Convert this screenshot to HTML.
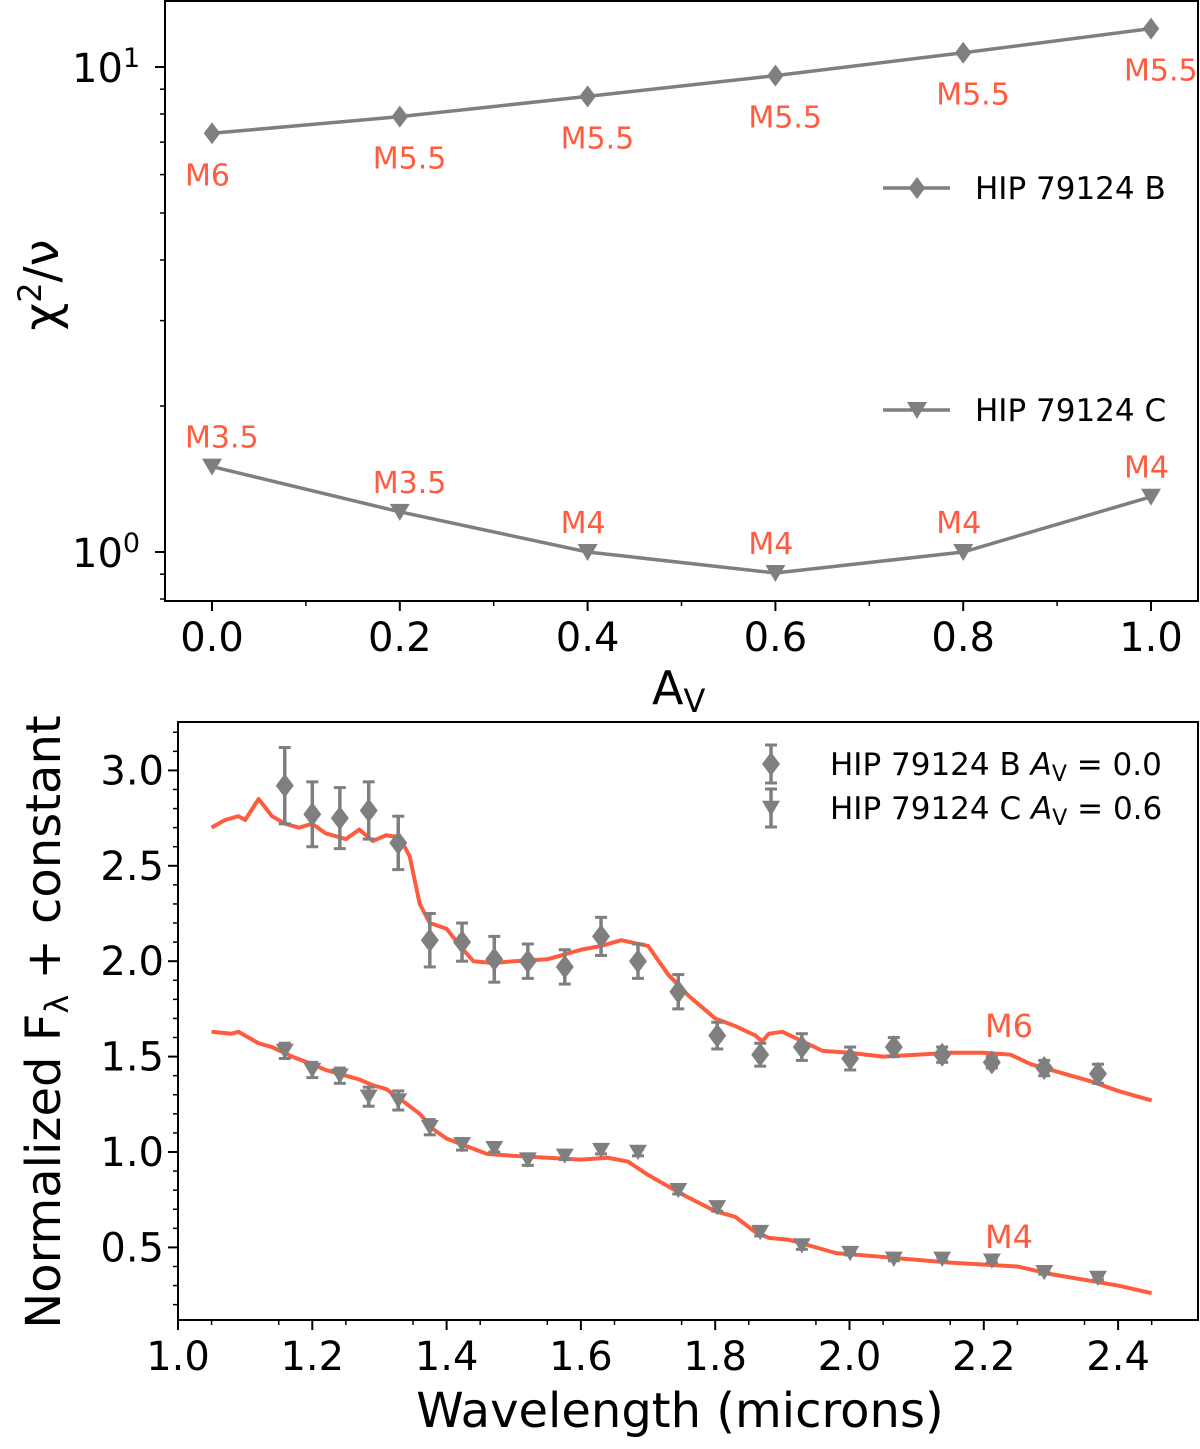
<!DOCTYPE html>
<html><head><meta charset="utf-8"><style>
body{margin:0;background:#fff}
svg{display:block;font-family:"DejaVu Sans","Liberation Sans",sans-serif}
</style></head><body>
<svg id="c" width="1200" height="1449" viewBox="0 0 1200 1449"></svg>
<script>
// ---- top panel data ----
const avValues=[0.0,0.2,0.4,0.6,0.8,1.0];
const chiB=[7.3,7.9,8.7,9.6,10.7,12.0];
const chiC=[1.50,1.21,1.0,0.905,1.0,1.30];
const sptB=["M6","M5.5","M5.5","M5.5","M5.5","M5.5"];
const sptC=["M3.5","M3.5","M4","M4","M4","M4"];
const avTicks=[0.0,0.2,0.4,0.6,0.8,1.0];
// ---- bottom panel data ----
const lamObs=[1.159,1.200,1.241,1.284,1.328,1.375,1.423,1.471,1.521,1.576,1.630,1.685,1.745,1.803,1.867,1.929,2.001,2.066,2.138,2.212,2.290,2.370];
const fluxB=[2.92,2.77,2.75,2.79,2.62,2.11,2.10,2.01,2.00,1.97,2.13,2.00,1.84,1.61,1.51,1.55,1.49,1.55,1.51,1.47,1.44,1.41];
const errB=[0.2,0.17,0.16,0.15,0.14,0.14,0.1,0.12,0.09,0.09,0.1,0.09,0.09,0.07,0.06,0.07,0.06,0.05,0.04,0.03,0.04,0.05];
const fluxC=[1.53,1.43,1.40,1.29,1.27,1.13,1.04,1.02,0.96,0.98,1.01,1.00,0.80,0.71,0.58,0.51,0.47,0.44,0.44,0.43,0.37,0.34];
const errC=[0.04,0.04,0.04,0.05,0.05,0.04,0.03,0.02,0.03,0.02,0.02,0.02,0.02,0.02,0.02,0.02,0.01,0.01,0.01,0.01,0.01,0.01];
const lamM6=[1.05,1.07,1.09,1.10,1.12,1.14,1.16,1.18,1.20,1.22,1.25,1.27,1.29,1.31,1.33,1.345,1.36,1.375,1.40,1.42,1.44,1.47,1.50,1.55,1.60,1.63,1.66,1.70,1.73,1.76,1.80,1.83,1.86,1.87,1.88,1.90,1.93,1.96,2.00,2.05,2.10,2.15,2.20,2.24,2.27,2.30,2.33,2.36,2.40,2.45];
const fluxM6=[2.70,2.74,2.76,2.74,2.85,2.76,2.72,2.70,2.72,2.67,2.64,2.69,2.63,2.66,2.65,2.55,2.30,2.20,2.17,2.08,2.00,1.99,2.00,2.01,2.06,2.08,2.11,2.08,1.93,1.82,1.70,1.66,1.61,1.58,1.62,1.63,1.58,1.53,1.52,1.50,1.51,1.52,1.52,1.51,1.46,1.43,1.40,1.37,1.32,1.27];
const lamM4=[1.05,1.08,1.09,1.12,1.14,1.17,1.20,1.22,1.25,1.27,1.29,1.31,1.33,1.36,1.38,1.40,1.43,1.46,1.50,1.55,1.60,1.64,1.67,1.70,1.75,1.80,1.83,1.86,1.88,1.91,1.94,1.98,2.05,2.15,2.25,2.30,2.35,2.40,2.45];
const fluxM4=[1.63,1.62,1.63,1.57,1.55,1.50,1.46,1.43,1.40,1.38,1.35,1.33,1.28,1.20,1.12,1.07,1.03,0.99,0.98,0.97,0.96,0.97,0.95,0.88,0.78,0.69,0.66,0.58,0.55,0.54,0.51,0.47,0.45,0.42,0.40,0.36,0.33,0.30,0.26];
const lamTicks=[1.0,1.2,1.4,1.6,1.8,2.0,2.2,2.4];
const fluxTicks=[0.5,1.0,1.5,2.0,2.5,3.0];

const NS="http://www.w3.org/2000/svg";
const svg=document.getElementById('c');
function mk(tag,attrs,parent,text){const e=document.createElementNS(NS,tag);for(const k in attrs)e.setAttribute(k,attrs[k]);if(text!==undefined)e.textContent=text;(parent||svg).appendChild(e);return e;}
const GREY="#7f7f7f",RED="#ff5c3f";

const T={l:165,r:1198,t:1,b:601};
const tx=v=>212+v*939;
const ty=v=>552-Math.log10(v)*485;
const B={l:178,r:1198,t:722,b:1320};
const bx=v=>178+(v-1)*671.5;
const by=v=>1152-(v-1)*190.8;

function diamond(x,y,s,p){return mk('path',{d:`M${x} ${y-s}L${x+s*0.75} ${y}L${x} ${y+s}L${x-s*0.75} ${y}Z`,fill:GREY},p);}
function tri(x,y,s,p){return mk('path',{d:`M${x-s} ${y-s*0.8}L${x+s} ${y-s*0.8}L${x} ${y+s*0.9}Z`,fill:GREY},p);}

// ===== TOP =====
const gt=mk('g',{});
const lineB=mk('polyline',{points:avValues.map((v,i)=>tx(v)+','+ty(chiB[i])).join(' '),fill:'none',stroke:GREY,'stroke-width':3.5},gt);

const lineC=mk('polyline',{points:avValues.map((v,i)=>tx(v)+','+ty(chiC[i])).join(' '),fill:'none',stroke:GREY,'stroke-width':3.5},gt);

avValues.forEach((v,i)=>{
  const m=diamond(tx(v),ty(chiB[i]),11,gt);
  const n=tri(tx(v),ty(chiC[i]),10,gt);
  const a=mk('text',{x:tx(v)-27,y:ty(chiB[i])+52,fill:RED,'font-size':30},gt,sptB[i]);
  const b=mk('text',{x:tx(v)-27,y:ty(chiC[i])-19,fill:RED,'font-size':30},gt,sptC[i]);
});
const ft=mk('rect',{x:T.l,y:T.t,width:T.r-T.l,height:T.b-T.t,fill:'none',stroke:'#000','stroke-width':2},gt);

avTicks.forEach(v=>{
  mk('line',{x1:tx(v),x2:tx(v),y1:T.b,y2:T.b+10,stroke:'#000','stroke-width':2},gt);
  const t=mk('text',{x:tx(v),y:T.b+50,'font-size':40,'text-anchor':'middle'},gt,v.toFixed(1));
  
});
for(let v=-0.2;v<=1.21;v+=0.1){const r=Math.round(v*10);if(r%2===0)continue;const X=tx(r/10);if(X<T.l||X>T.r)continue;mk('line',{x1:X,x2:X,y1:T.b,y2:T.b+5,stroke:'#000','stroke-width':1.5},gt);}
[1,10].forEach(v=>{mk('line',{x1:T.l-10,x2:T.l,y1:ty(v),y2:ty(v),stroke:'#000','stroke-width':2},gt);});
[0.8,0.9,2,3,4,5,6,7,8,9,20].forEach(v=>{const Y=ty(v);if(Y<T.t||Y>T.b)return;mk('line',{x1:T.l-5,x2:T.l,y1:Y,y2:Y,stroke:'#000','stroke-width':1.5},gt);});
let l1=mk('text',{x:72,y:ty(10)+15,'font-size':40},gt);l1.innerHTML='10<tspan dy="-15" font-size="27">1</tspan>';
let l0=mk('text',{x:72,y:ty(1)+15,'font-size':40},gt);l0.innerHTML='10<tspan dy="-15" font-size="27">0</tspan>';
let yl=mk('text',{x:0,y:0,'font-size':48,'text-anchor':'middle',transform:'translate(58,285) rotate(-90)'},gt);
yl.innerHTML='χ<tspan dy="-17" font-size="32">2</tspan><tspan dy="17">/ν</tspan>';
let xl=mk('text',{x:652,y:704,'font-size':46},gt);xl.innerHTML='A<tspan dy="8" font-size="32">V</tspan>';
[[188,'HIP 79124 B',0],[410,'HIP 79124 C',1]].forEach(([y,t,k])=>{
  const g=mk('g',{},gt);
  mk('line',{x1:883,x2:950,y1:y,y2:y,stroke:GREY,'stroke-width':3.5},g);
  k?tri(917,y,10,g):diamond(917,y,11,g);
  mk('text',{x:975,y:y+11,'font-size':31},g,t);
});

// ===== BOTTOM =====
const gb=mk('g',{});
const mB=mk('polyline',{points:lamM6.map((v,i)=>bx(v)+','+by(fluxM6[i])).join(' '),fill:'none',stroke:RED,'stroke-width':4,'stroke-linejoin':'round'},gb);

const mC=mk('polyline',{points:lamM4.map((v,i)=>bx(v)+','+by(fluxM4[i])).join(' '),fill:'none',stroke:RED,'stroke-width':4,'stroke-linejoin':'round'},gb);

function errbar(x,y,e,p){
  mk('line',{x1:x,x2:x,y1:by(y-e),y2:by(y+e),stroke:GREY,'stroke-width':3.5},p);
  mk('line',{x1:x-6,x2:x+6,y1:by(y-e),y2:by(y-e),stroke:GREY,'stroke-width':3},p);
  mk('line',{x1:x-6,x2:x+6,y1:by(y+e),y2:by(y+e),stroke:GREY,'stroke-width':3},p);
}
lamObs.forEach((v,i)=>{
  const g1=mk('g',{},gb);
  errbar(bx(v),fluxB[i],errB[i],g1);diamond(bx(v),by(fluxB[i]),12,g1);
  const g2=mk('g',{},gb);
  errbar(bx(v),fluxC[i],errC[i],g2);tri(bx(v),by(fluxC[i]),9,g2);
});
const fb=mk('rect',{x:B.l,y:B.t,width:B.r-B.l,height:B.b-B.t,fill:'none',stroke:'#000','stroke-width':2},gb);

lamTicks.forEach(v=>{
  mk('line',{x1:bx(v),x2:bx(v),y1:B.b,y2:B.b+10,stroke:'#000','stroke-width':2},gb);
  const t=mk('text',{x:bx(v),y:B.b+50,'font-size':40,'text-anchor':'middle'},gb,v.toFixed(1));
  
});
for(let k=21;k<=50;k+=2){const X=bx(k*0.05);if(X>B.r)break;mk('line',{x1:X,x2:X,y1:B.b,y2:B.b+5,stroke:'#000','stroke-width':1.5},gb);}
fluxTicks.forEach(v=>{
  mk('line',{x1:B.l-10,x2:B.l,y1:by(v),y2:by(v),stroke:'#000','stroke-width':2},gb);
  const t=mk('text',{x:B.l-14,y:by(v)+14,'font-size':40,'text-anchor':'end'},gb,v.toFixed(1));
  
});
for(let k=2;k<=32;k++){if(k%5===0)continue;const Y=by(k*0.1);if(Y<B.t||Y>B.b)continue;mk('line',{x1:B.l-5,x2:B.l,y1:Y,y2:Y,stroke:'#000','stroke-width':1.5},gb);}
let byl=mk('text',{x:0,y:0,'font-size':48,'text-anchor':'middle',transform:'translate(60,1022) rotate(-90)'},gb);
byl.innerHTML='Normalized F<tspan dy="8" font-size="32">λ</tspan><tspan dy="-8"> + constant</tspan>';
let bxl=mk('text',{x:680,y:1427,'font-size':48,'text-anchor':'middle'},gb,'Wavelength (microns)');

let t6=mk('text',{x:985,y:1037,fill:RED,'font-size':32},gb,'M6');
let t4=mk('text',{x:985,y:1248,fill:RED,'font-size':32},gb,'M4');
[[764,0],[808,1]].forEach(([y,k])=>{
  const g=mk('g',{},gb);
  mk('line',{x1:771,x2:771,y1:y-19,y2:y+19,stroke:GREY,'stroke-width':3.5},g);
  mk('line',{x1:765,x2:777,y1:y-19,y2:y-19,stroke:GREY,'stroke-width':3},g);
  mk('line',{x1:765,x2:777,y1:y+19,y2:y+19,stroke:GREY,'stroke-width':3},g);
  k?tri(771,y,9,g):diamond(771,y,12,g);
  const t=mk('text',{x:830,y:y+11,'font-size':31},g);
  t.innerHTML=(k?'HIP 79124 C ':'HIP 79124 B ')+'<tspan font-style="italic">A</tspan><tspan dy="6" font-size="22">V</tspan><tspan dy="-6"> = '+(k?'0.6':'0.0')+'</tspan>';
});
</script>
</body></html>
